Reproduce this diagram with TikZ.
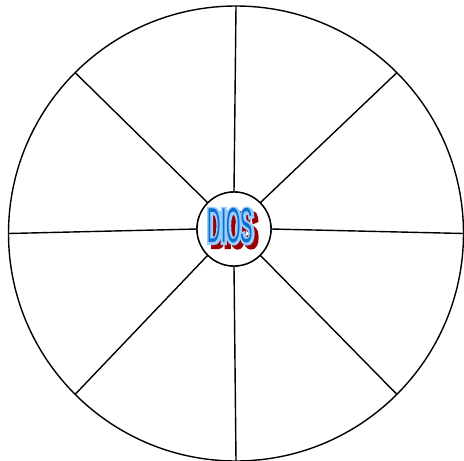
\documentclass[tikz,border=0pt]{standalone}
\usepackage{fontspec}
\newfontfamily\diosfont[FakeStretch=0.38]{Liberation Sans}
\newfontfamily\dioshalofont[FakeStretch=0.38,FakeBold=9]{Liberation Sans}
\definecolor{halo}{HTML}{99CCFF}
\definecolor{letter}{HTML}{0A6FCC}
\definecolor{shadow}{HTML}{990000}
\newcommand{\diosword}{%
  \rlap{\hspace*{4pt}\raisebox{-4pt}{\textcolor{shadow}{\dioshalofont DIOS}}}%
  \rlap{\textcolor{halo}{\dioshalofont DIOS}}%
  \textcolor{letter}{\diosfont DIOS}}
\begin{document}
\begin{tikzpicture}[x=1pt,y=-1pt,
  ring/.style={circle,draw=black,line width=1.4pt,inner sep=0pt,outer sep=0pt},
  spoke/.style={draw=black,line width=1.4pt},
  word/.style={inner sep=0pt,outer sep=0pt,font=\fontsize{49}{49}\selectfont}]
\useasboundingbox (0,0) rectangle (464,461);
\node[ring,minimum size=455pt] (outer) at (236,233.5) {};
\node[ring,fill=white,minimum size=74pt] (hub) at (234,229) {};
\foreach \a in {0,45,...,315}
  \draw[spoke] (hub.\a) -- (outer.\a);
\node[ring,fill=white,minimum size=74pt] (hubtop) at (hub) {};
\node[word] (dios) at (230.5,228) {\diosword};
\end{tikzpicture}
\end{document}
